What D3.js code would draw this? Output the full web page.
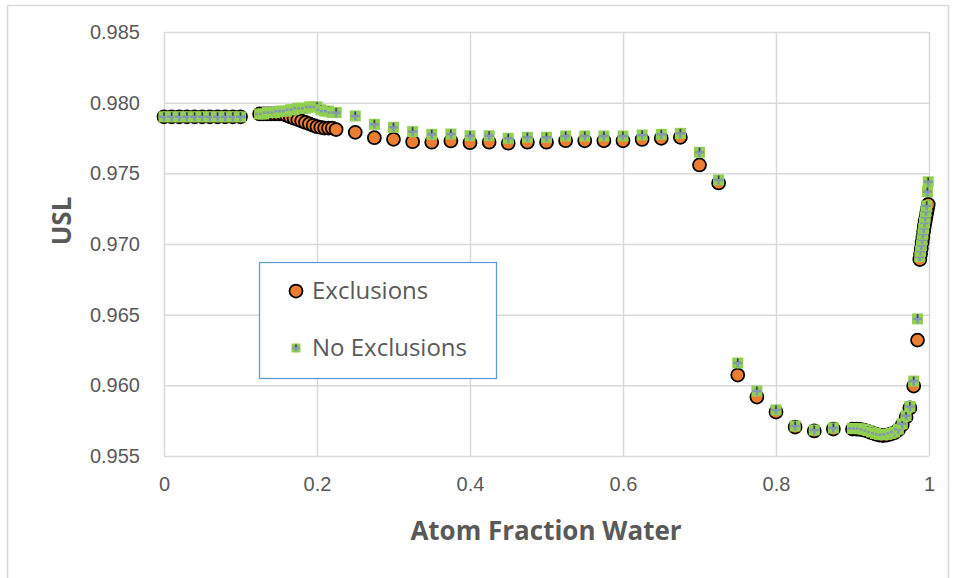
<!DOCTYPE html>
<html><head><meta charset="utf-8">
<script src="https://cdn.jsdelivr.net/npm/d3@7"></script>
<style>body{margin:0;background:#fff;}svg{display:block;font-family:"Open Sans",sans-serif;}</style>
</head><body><svg id="c" width="956" height="578"></svg>
<script>
// ---- data ----
const xTicks = [0, 0.2, 0.4, 0.6, 0.8, 1];
const xTickLabels = ["0", "0.2", "0.4", "0.6", "0.8", "1"];
const yTicks = [0.955, 0.960, 0.965, 0.970, 0.975, 0.980, 0.985];
const yTickLabels = ["0.955", "0.960", "0.965", "0.970", "0.975", "0.980", "0.985"];
const seriesNames = ["Exclusions", "No Exclusions"];

const xExcl = [0,0.01,0.02,0.03,0.04,0.05,0.06,0.07,0.08,0.09,0.1,
  0.125,0.13,0.135,0.14,0.145,0.15,0.155,0.16,0.165,0.17,0.175,0.18,0.185,0.19,0.195,0.2,0.205,0.21,0.215,0.22,0.225,
  0.25,0.275,0.3,0.325,0.35,0.375,0.4,0.425,0.45,0.475,0.5,0.525,0.55,0.575,0.6,0.625,0.65,0.675,0.7,0.725,
  0.75,0.775,0.8,0.825,0.85,0.875,
  0.9,0.905,0.91,0.915,0.92,0.925,0.93,0.935,0.94,0.945,0.95,0.955,0.96,0.965,0.97,0.975,0.98,0.985,
  0.988,0.989,0.99,0.991,0.992,0.993,0.994,0.995,0.996,0.997,0.998,0.999];
const yExcl = [0.9790,0.9790,0.9790,0.9790,0.9790,0.9790,0.9790,0.9790,0.9790,0.9790,0.9790,
  0.9792,0.9792,0.9792,0.9792,0.9792,0.9792,0.9792,0.9791,0.9790,0.9789,0.9788,0.9787,0.9786,0.9785,0.9784,0.9783,0.97825,0.9782,0.9782,0.9782,0.9781,
  0.9779,0.97752,0.97741,0.97724,0.9772,0.97729,0.97717,0.9772,0.97713,0.9772,0.9772,0.97731,0.9773,0.9773,0.9773,0.9774,0.97748,0.97755,0.97559,0.97432,
  0.96073,0.95917,0.95811,0.95705,0.95677,0.95691,
  0.9569,0.9569,0.95688,0.95683,0.95675,0.95665,0.95655,0.95648,0.95645,0.95648,0.95655,0.95665,0.95685,0.9572,0.95775,0.9584,0.95995,0.9632,
  0.9689,0.9693,0.9697,0.9701,0.9705,0.9709,0.9713,0.9716,0.9719,0.9722,0.9725,0.9728];

const xNoExcl = xExcl;
const yNoExcl = [0.9790,0.9790,0.9790,0.9790,0.9790,0.9790,0.9790,0.9790,0.9790,0.9790,0.9790,
  0.9792,0.9792,0.9793,0.9793,0.9793,0.9794,0.9794,0.9794,0.9795,0.9795,0.9796,0.9796,0.9796,0.9797,0.9797,0.9797,0.9795,0.9794,0.9794,0.9793,0.9793,
  0.97906,0.97847,0.97826,0.97795,0.97776,0.97778,0.97766,0.97766,0.97748,0.97755,0.97755,0.97764,0.97764,0.97764,0.97764,0.97771,0.97776,0.97783,0.97649,0.97453,
  0.96158,0.9596,0.95826,0.95712,0.95684,0.95698,
  0.95695,0.95695,0.95693,0.95688,0.9568,0.9567,0.9566,0.95653,0.9565,0.95653,0.9566,0.9567,0.9569,0.95728,0.95785,0.9585,0.9603,0.9647,
  0.9691,0.9695,0.9699,0.9703,0.9707,0.9711,0.9715,0.9719,0.9723,0.9727,0.9737,0.9744];

// ---- layout ----
const svg = d3.select("#c");
const L = 164, R = 929, T = 32, B = 456;
const x = d3.scaleLinear().domain([0, 1]).range([L, R]);
const y = d3.scaleLinear().domain([0.955, 0.985]).range([B, T]);
const txt = "#595959", grid = "#D9D9D9";

svg.append("rect").attr("x", 7.5).attr("y", 5.5).attr("width", 941).attr("height", 590)
  .attr("fill", "#fff").attr("stroke", grid).attr("stroke-width", 1.5);

// gridlines + tick labels
const yAxis = d3.axisLeft(y).tickValues(yTicks).tickSize(-(R - L)).tickFormat((d, i) => yTickLabels[i]);
const gy = svg.append("g").attr("transform", `translate(${L},0)`).call(yAxis);
gy.select(".domain").remove();
gy.selectAll("line").attr("stroke", grid).attr("stroke-width", 1.5);
gy.selectAll("text").attr("x", -24).attr("fill", txt).style("font-size", "20px");

const xAxis = d3.axisBottom(x).tickValues(xTicks).tickSize(-(B - T)).tickFormat((d, i) => xTickLabels[i]);
const gx = svg.append("g").attr("transform", `translate(0,${B})`).call(xAxis);
gx.select(".domain").remove();
gx.selectAll("line").attr("stroke", grid).attr("stroke-width", 1.5);
gx.selectAll("text").attr("y", 21).attr("fill", txt).style("font-size", "20px");

// axis titles
svg.append("text").attr("x", 546).attr("y", 540).attr("text-anchor", "middle")
  .attr("fill", txt).style("font-size", "26px").style("font-weight", "bold").text("Atom Fraction Water");
svg.append("text").attr("transform", "translate(71,221) rotate(-90)").attr("text-anchor", "middle")
  .attr("fill", txt).style("font-size", "26px").style("font-weight", "bold").text("USL");

// markers
const orange = "#ED7D31", green = "#92D050", plusC = "#8497B0";
function drawCircle(g, cx, cy, r) {
  g.append("circle").attr("cx", cx).attr("cy", cy).attr("r", r)
    .attr("fill", orange).attr("stroke", "#000").attr("stroke-width", 1.75);
}
function drawSquare(g, cx, cy, s) {
  g.append("rect").attr("x", cx - s / 2).attr("y", cy - s / 2).attr("width", s).attr("height", s).attr("fill", green);
  g.append("line").attr("x1", cx - s / 2 + 1).attr("x2", cx + s / 2 - 1).attr("y1", cy).attr("y2", cy)
    .attr("stroke", plusC).attr("stroke-width", 2.5);
  g.append("line").attr("x1", cx).attr("x2", cx).attr("y1", cy - s / 2 + 1).attr("y2", cy + s / 2 - 1)
    .attr("stroke", plusC).attr("stroke-width", 2.5);
  g.append("line").attr("x1", cx).attr("x2", cx).attr("y1", cy - s / 2 + 1).attr("y2", cy - 1)
    .attr("stroke", "#404040").attr("stroke-width", 1.5);
}
const gE = svg.append("g");
xExcl.forEach((xv, i) => drawCircle(gE, x(xv), y(yExcl[i]), 6.5));
const gN = svg.append("g");
xNoExcl.forEach((xv, i) => drawSquare(gN, x(xv), y(yNoExcl[i]), 11));

// legend
const lg = svg.append("g");
lg.append("rect").attr("x", 259.5).attr("y", 262.5).attr("width", 237).attr("height", 116)
  .attr("fill", "#fff").attr("stroke", "#5B9BD5").attr("stroke-width", 1.25);
drawCircle(lg, 296, 291, 6.5);
drawSquare(lg, 296, 348, 9);
lg.append("text").attr("x", 312).attr("y", 299).attr("fill", txt).style("font-size", "24px").text(seriesNames[0]);
lg.append("text").attr("x", 312).attr("y", 356).attr("fill", txt).style("font-size", "24px").text(seriesNames[1]);
</script></body></html>
